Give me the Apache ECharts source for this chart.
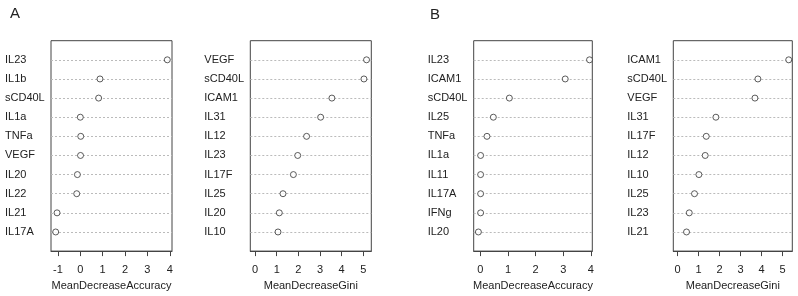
<!DOCTYPE html>
<html>
<head>
<meta charset="utf-8">
<script src="https://cdn.jsdelivr.net/npm/echarts@6/dist/echarts.min.js"></script>
<style>
html, body { margin: 0; padding: 0; background: #fff; }
#main { width: 798px; height: 296px; }
</style>
</head>
<body>
<div id="main"></div>
<script>
// panel A
var accNamesA = ['IL23', 'IL1b', 'sCD40L', 'IL1a', 'TNFa', 'VEGF', 'IL20', 'IL22', 'IL21', 'IL17A'];
var accValsA = [3.89, 0.88, 0.82, 0.00, 0.02, 0.01, -0.13, -0.16, -1.04, -1.10];
var giniNamesA = ['VEGF', 'sCD40L', 'ICAM1', 'IL31', 'IL12', 'IL23', 'IL17F', 'IL25', 'IL20', 'IL10'];
var giniValsA = [5.15, 5.03, 3.55, 3.03, 2.38, 1.97, 1.77, 1.29, 1.12, 1.06];
// panel B
var accNamesB = ['IL23', 'ICAM1', 'sCD40L', 'IL25', 'TNFa', 'IL1a', 'IL11', 'IL17A', 'IFNg', 'IL20'];
var accValsB = [3.95, 3.07, 1.05, 0.47, 0.24, 0.01, 0.01, 0.01, 0.01, -0.07];
var giniNamesB = ['ICAM1', 'sCD40L', 'VEGF', 'IL31', 'IL17F', 'IL12', 'IL10', 'IL25', 'IL23', 'IL21'];
var giniValsB = [5.30, 3.83, 3.69, 1.83, 1.37, 1.32, 1.02, 0.81, 0.56, 0.43];
// tick labels
var ticksAccA = [-1, 0, 1, 2, 3, 4];
var ticksGiniA = [0, 1, 2, 3, 4, 5];
var ticksAccB = [0, 1, 2, 3, 4];
var ticksGiniB = [0, 1, 2, 3, 4, 5];

var FONT = '"Liberation Sans", Arial, sans-serif';

var panels = [
  {names: accNamesA, vals: accValsA, ticks: ticksAccA, title: 'MeanDecreaseAccuracy', left: 51, width: 121, min: -1.31, max: 4.10},
  {names: giniNamesA, vals: giniValsA, ticks: ticksGiniA, title: 'MeanDecreaseGini', left: 250.3, width: 121, min: -0.22, max: 5.37},
  {names: accNamesB, vals: accValsB, ticks: ticksAccB, title: 'MeanDecreaseAccuracy', left: 473.7, width: 118.6, min: -0.24, max: 4.05},
  {names: giniNamesB, vals: giniValsB, ticks: ticksGiniB, title: 'MeanDecreaseGini', left: 673.3, width: 119, min: -0.2, max: 5.47}
];

var grids = [], xAxes = [], yAxes = [], series = [];

panels.forEach(function (p, i) {
  grids.push({
    left: p.left, top: 40.7, width: p.width, height: 212.6,
    show: true, borderColor: '#444', borderWidth: 1, backgroundColor: 'transparent'
  });
  xAxes.push({
    type: 'value', gridIndex: i, min: p.min, max: p.max, position: 'bottom',
    name: p.title, nameLocation: 'middle', nameGap: 28,
    nameTextStyle: {fontFamily: FONT, fontSize: 11, color: '#222'},
    axisLine: {show: true, onZero: false, lineStyle: {color: '#444'}},
    axisTick: {show: true, length: 5, customValues: p.ticks, lineStyle: {color: '#444'}},
    axisLabel: {customValues: p.ticks, margin: 13, fontFamily: FONT, fontSize: 11, color: '#222'},
    splitLine: {show: false}
  });
  var names = p.names;
  yAxes.push({
    type: 'value', gridIndex: i, min: 0, max: 11, interval: 1, inverse: true,
    axisLine: {show: false, onZero: false},
    axisTick: {show: false},
    axisLabel: {
      align: 'left', margin: 46, fontFamily: FONT, fontSize: 11, color: '#222',
      formatter: function (v) { return (v >= 1 && v <= names.length) ? names[v - 1] : ''; }
    },
    splitLine: {show: true, showMinLine: false, showMaxLine: false,
      lineStyle: {color: '#bbb', type: [2, 2], width: 1}}
  });
  series.push({
    type: 'scatter', xAxisIndex: i, yAxisIndex: i,
    symbol: 'circle', symbolSize: 6,
    itemStyle: {color: '#fff', borderColor: '#333', borderWidth: 1},
    data: p.vals.map(function (v, k) { return [v, k + 1]; }),
    silent: true, z: 5
  });
});

var chart = echarts.init(document.getElementById('main'));
chart.setOption({
  animation: false,
  backgroundColor: '#fff',
  title: [
    {text: 'A', left: 5, top: 1, textStyle: {fontFamily: FONT, fontSize: 15, fontWeight: 'normal', color: '#222'}},
    {text: 'B', left: 425, top: 2, textStyle: {fontFamily: FONT, fontSize: 15, fontWeight: 'normal', color: '#222'}}
  ],
  grid: grids,
  xAxis: xAxes,
  yAxis: yAxes,
  series: series
});
</script>
</body>
</html>
